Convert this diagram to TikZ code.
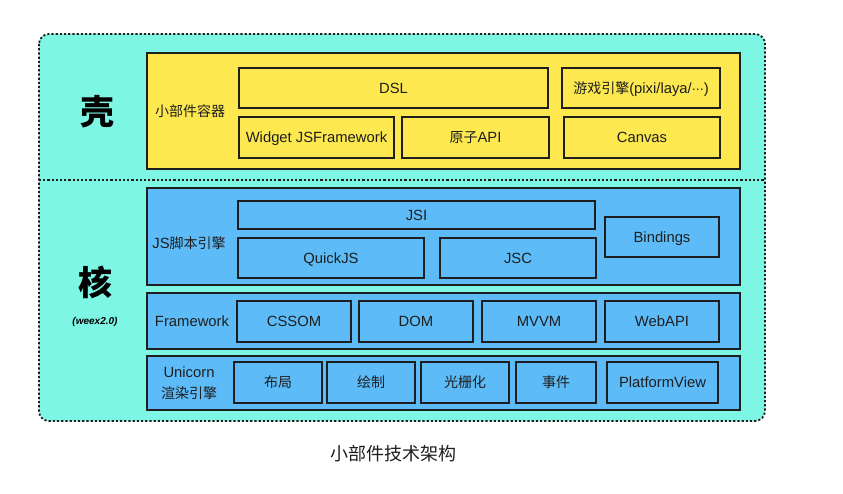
\documentclass[tikz,border=0pt]{standalone}
\usepackage{fontspec}
\setmainfont{Liberation Sans}
\newfontfamily\cjk{Noto Sans CJK SC}
\newfontfamily\symf{DejaVu Sans}
\usetikzlibrary{positioning}
\definecolor{bgcyan}{HTML}{7DF6E4}
\definecolor{ylw}{HTML}{FDE94F}
\definecolor{blu}{HTML}{5DBCF8}
\definecolor{ink}{HTML}{1E1E1E}
\newcommand{\zh}[1]{{\cjk\fontsize{14}{16}\selectfont #1}}
\tikzset{
  layer/.style={draw=ink, line width=1.6pt, inner sep=0pt, outer sep=0pt},
  cell/.style={draw=ink, line width=1.6pt, inner sep=0pt, outer sep=0pt, text=ink, font=\fontsize{14.8}{16}\selectfont, text height=10.8pt, text depth=0pt},
  lbl/.style={text=ink, inner sep=0pt, font=\fontsize{14.8}{16}\selectfont, align=center},
  big/.style={text=black, inner sep=0pt, font=\cjk\bfseries\fontsize{34}{36}\selectfont},
  dots/.style={draw=ink, line width=1.8pt, dash pattern=on 2.2pt off 2pt}
}
\begin{document}
\begin{tikzpicture}[x=1pt,y=-1pt]
\useasboundingbox (0,0) rectangle (843,494);
% outer container
\fill[bgcyan, rounded corners=10pt] (39,34) rectangle (765,421);
\draw[dots, rounded corners=10pt] (39,34) rectangle (765,421);
\coordinate (divL) at (39,180);
\coordinate (divR) at (765,180);
\draw[dots] (divL) -- (divR);
% shell layer
\node[layer, fill=ylw, minimum width=593pt, minimum height=116pt] (shell) at (443.5,111) {};
\node[cell, fill=ylw, minimum width=309pt, minimum height=40pt] (dsl) at (393.5,88) {DSL};
\node[cell, fill=ylw, minimum width=158pt, minimum height=40pt] (game) at (641,88) {\zh{游戏引擎}(pixi/laya/{\symf\fontsize{12}{14}\selectfont ⋯})};
\node[cell, fill=ylw, minimum width=155pt, minimum height=41pt] (widget) at (316.5,137.5) {Widget JSFramework};
\node[cell, fill=ylw, minimum width=147pt, minimum height=41pt] (atom) at (475.5,137.5) {\zh{原子}API};
\node[cell, fill=ylw, minimum width=156pt, minimum height=41pt] (canvas) at (642,137.5) {Canvas};
\node[lbl] (shelllbl) at (190,111) {\zh{小部件容器}};
\node[big] (ke) at (97,112) {壳};
% JS engine layer
\node[layer, fill=blu, minimum width=593pt, minimum height=97pt] (js) at (443.5,236.5) {};
\node[cell, fill=blu, minimum width=357pt, minimum height=28pt] (jsi) at (416.5,215) {JSI};
\node[cell, fill=blu, minimum width=186pt, minimum height=40pt] (quick) at (331,258) {QuickJS};
\node[cell, fill=blu, minimum width=156pt, minimum height=40pt] (jsc) at (518,258) {JSC};
\node[cell, fill=blu, minimum width=114pt, minimum height=40pt] (bind) at (662,237) {Bindings};
\node[lbl] (jslbl) at (189,243) {JS\zh{脚本引擎}};
% framework layer
\node[layer, fill=blu, minimum width=593pt, minimum height=56pt] (fw) at (443.5,321) {};
\node[cell, fill=blu, minimum width=114pt, minimum height=41pt] (cssom) at (294,321.5) {CSSOM};
\node[cell, fill=blu, minimum width=114pt, minimum height=41pt] (dom) at (416,321.5) {DOM};
\node[cell, fill=blu, minimum width=114pt, minimum height=41pt] (mvvm) at (539,321.5) {MVVM};
\node[cell, fill=blu, minimum width=114pt, minimum height=41pt] (webapi) at (662,321.5) {WebAPI};
\node[lbl] (fwlbl) at (192,321) {Framework};
% unicorn layer
\node[layer, fill=blu, minimum width=593pt, minimum height=54pt] (uni) at (443.5,383) {};
\node[cell, fill=blu, minimum width=88pt, minimum height=41pt] (layout) at (278,382.5) {\zh{布局}};
\node[cell, fill=blu, minimum width=88pt, minimum height=41pt] (paint) at (371,382.5) {\zh{绘制}};
\node[cell, fill=blu, minimum width=88pt, minimum height=41pt] (raster) at (465,382.5) {\zh{光栅化}};
\node[cell, fill=blu, minimum width=80pt, minimum height=41pt] (event) at (556,382.5) {\zh{事件}};
\node[cell, fill=blu, minimum width=111pt, minimum height=41pt] (pview) at (662.5,382.5) {PlatformView};
\node[lbl, font=\fontsize{14.8}{21}\selectfont] (unilbl) at (189,383) {Unicorn\\\zh{渲染引擎}};
\node[big] (he) at (95,282) {核};
\node[text=black, inner sep=0pt, font=\bfseries\itshape\fontsize{10}{12}\selectfont] (weex) at (95,322) {(weex2.0)};
% caption
\node[text=ink, inner sep=0pt, font=\cjk\fontsize{18}{20}\selectfont] (cap) at (393,454) {小部件技术架构};
\end{tikzpicture}
\end{document}
